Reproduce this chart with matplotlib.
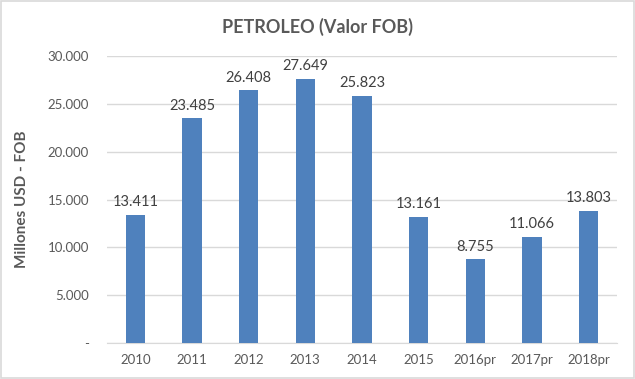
import matplotlib.pyplot as plt
from matplotlib.patches import Rectangle

plt.rcParams['font.family'] = ['Lato', 'DejaVu Sans']

years = ["2010", "2011", "2012", "2013", "2014", "2015", "2016pr", "2017pr", "2018pr"]
valores = [13411, 23485, 26408, 27649, 25823, 13161, 8755, 11066, 13803]
yticks = [0, 5000, 10000, 15000, 20000, 25000, 30000]

def fmt(v):
    # formato con punto de miles, cero como guion
    if v == 0:
        return "-"
    return f"{v:,.0f}".replace(",", ".")

fig = plt.figure(figsize=(6.35, 3.79), dpi=100)
ax = fig.add_axes([0.1685, 0.095, 0.803, 0.757])

x = range(len(years))
ax.bar(x, valores, width=0.34, color="#4F81BD", zorder=3)
for i, v in enumerate(valores):
    ax.text(i, v + 600, fmt(v), ha="center", va="bottom", fontsize=10.5, color="#404040")

ax.set_ylim(0, 30000)
ax.set_xlim(-0.5, len(years) - 0.5)
ax.set_yticks(yticks)
ax.set_yticklabels([fmt(t) for t in yticks])
ax.set_xticks(list(x))
ax.set_xticklabels(years)
ax.tick_params(axis="both", length=0, labelsize=9.5, labelcolor="#595959", pad=8)
ax.tick_params(axis="y", pad=13)
ax.grid(axis="y", color="#D9D9D9", linewidth=1, zorder=0)
for s in ["top", "right", "left"]:
    ax.spines[s].set_visible(False)
ax.spines["bottom"].set_color("#D9D9D9")

ax.set_ylabel("Millones USD - FOB", fontsize=11, fontweight="bold", color="#595959")
ax.yaxis.set_label_coords(-0.152, 0.5)
fig.text(0.5, 0.928, "PETROLEO (Valor FOB)", ha="center", va="center",
         fontsize=13, fontweight="bold", color="#595959")

fig.patches.append(Rectangle((0.002, 0.003), 0.996, 0.994, transform=fig.transFigure,
                             fill=False, edgecolor="#D9D9D9", linewidth=1.2))

fig.savefig("out.png", dpi=100)
